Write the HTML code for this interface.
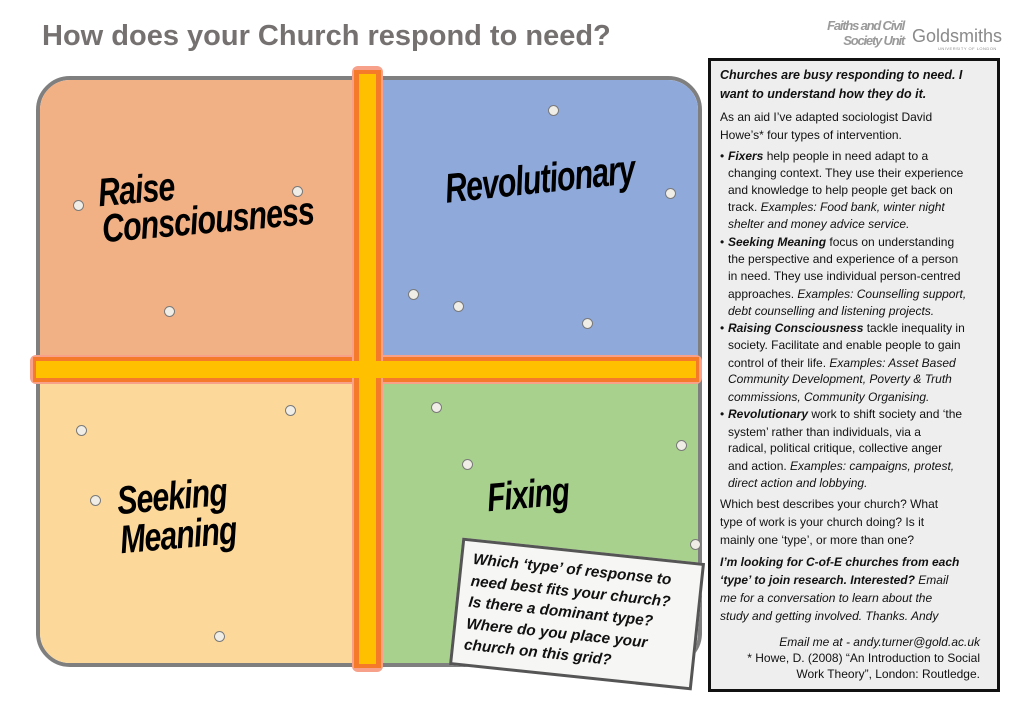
<!DOCTYPE html>
<html><head><meta charset="utf-8"><style>
body{margin:0;width:1024px;height:724px;background:#fff;position:relative;overflow:hidden;font-family:"Liberation Sans",sans-serif}
.a{position:absolute}
.lbl{position:absolute;font-family:"Liberation Sans",sans-serif;font-weight:bold;font-style:italic;color:#000;font-size:33px;line-height:33px;white-space:nowrap;transform-origin:0 50%;letter-spacing:-1px}
.dot{position:absolute;width:9px;height:9px;border-radius:50%;background:#f0ede6;border:1.3px solid #7a7a7a}
.ln{position:absolute;left:720px;font-size:12px;line-height:18px;white-space:nowrap;color:#111;letter-spacing:0px}
.ind{left:728px}
.bul{position:absolute;left:-8px;top:0}
</style></head><body>
<div class="a" style="left:42px;top:20px;font-size:29px;font-weight:bold;color:#767171;white-space:nowrap">How does your Church respond to need?</div>

<div class="a" style="left:820px;top:18px;font-weight:bold;font-style:italic;font-size:13px;line-height:15px;color:#9a9a9a;text-align:right;width:84px;white-space:nowrap;letter-spacing:-1.2px">Faiths and Civil<br>Society Unit</div>
<div class="a" style="left:912px;top:26px;font-size:18px;color:#8a8a8a;white-space:nowrap">Goldsmiths</div>
<div class="a" style="left:938px;top:46px;font-size:4px;color:#8a8a8a;letter-spacing:.5px;white-space:nowrap">UNIVERSITY OF LONDON</div>

<!-- grid -->
<div class="a" style="left:36px;top:76px;width:658px;height:583px;border:4px solid #7f7f7f;border-radius:34px;overflow:hidden">
 <div class="a" style="left:0;top:0;width:331px;height:294px;background:#f2b085"></div>
 <div class="a" style="left:331px;top:0;width:400px;height:294px;background:#8fa9db"></div>
 <div class="a" style="left:0;top:294px;width:331px;height:300px;background:#fcd99a"></div>
 <div class="a" style="left:331px;top:294px;width:400px;height:300px;background:#a9d18e"></div>
</div>
<!-- bars -->
<div class="a" style="left:30px;top:355px;width:672px;height:29px;background:#f7a08a;border-radius:6px"></div>
<div class="a" style="left:33px;top:357px;width:666px;height:25px;background:#f57a2a"></div>
<div class="a" style="left:36px;top:361px;width:660px;height:17px;background:#ffc000"></div>
<div class="a" style="left:352px;top:66px;width:31px;height:606px;background:#f7a08a;border-radius:6px"></div>
<div class="a" style="left:354px;top:70px;width:27px;height:598px;background:#f57a2a"></div>
<div class="a" style="left:359px;top:74px;width:17px;height:590px;background:#ffc000"></div>
<div class="a" style="left:36px;top:361px;width:660px;height:17px;background:#ffc000"></div>

<!-- dots -->
<div class="dot" style="left:548px;top:105px"></div>
<div class="dot" style="left:292px;top:186px"></div>
<div class="dot" style="left:73px;top:200px"></div>
<div class="dot" style="left:665px;top:188px"></div>
<div class="dot" style="left:164px;top:306px"></div>
<div class="dot" style="left:408px;top:289px"></div>
<div class="dot" style="left:453px;top:301px"></div>
<div class="dot" style="left:582px;top:318px"></div>
<div class="dot" style="left:285px;top:405px"></div>
<div class="dot" style="left:76px;top:425px"></div>
<div class="dot" style="left:431px;top:402px"></div>
<div class="dot" style="left:462px;top:459px"></div>
<div class="dot" style="left:676px;top:440px"></div>
<div class="dot" style="left:90px;top:495px"></div>
<div class="dot" style="left:214px;top:631px"></div>
<div class="dot" style="left:690px;top:539px"></div>

<!-- labels -->
<div class="lbl" style="left:98px;top:176px;transform:rotate(-5deg) scale(0.92,1.2)">Raise</div>
<div class="lbl" style="left:102px;top:212px;transform:rotate(-5deg) scale(0.92,1.2)">Consciousness</div>
<div class="lbl" style="left:445px;top:172px;transform:rotate(-6deg) scale(0.92,1.25)">Revolutionary</div>
<div class="lbl" style="left:117px;top:484px;transform:rotate(-5deg) scale(0.92,1.2)">Seeking</div>
<div class="lbl" style="left:120px;top:523px;transform:rotate(-5deg) scale(0.92,1.2)">Meaning</div>
<div class="lbl" style="left:487px;top:481px;transform:rotate(-5deg) scale(0.9,1.2)">Fixing</div>

<!-- note -->
<div class="a" style="left:455px;top:550px;width:244px;height:128px;background:#f6f6f4;border:3px solid #555;transform:rotate(6deg);box-sizing:border-box;padding:7px 0 0 10px;font-style:italic;font-weight:bold;font-size:15.3px;line-height:21.5px;color:#111;white-space:nowrap">Which ‘type’ of response to<br>need best fits your church?<br>Is there a dominant type?<br>Where do you place your<br>church on this grid?</div>

<!-- panel -->
<div class="a" style="left:708px;top:58px;width:286px;height:628px;background:#eeeeee;border:3px solid #111"></div>
<div class="ln" style="top:66px;font-weight:bold;font-style:italic;font-size:12.5px">Churches are busy responding to need. I</div>
<div class="ln" style="top:85px;font-weight:bold;font-style:italic;font-size:12.5px">want to understand how they do it.</div>
<div class="ln" style="top:108px">As an aid I’ve adapted sociologist David</div>
<div class="ln" style="top:126px">Howe’s* four types of intervention.</div>
<div class="ln ind" style="top:147px"><span class="bul">•</span><b><i>Fixers</i></b> help people in need adapt to a</div>
<div class="ln ind" style="top:164px">changing context. They use their experience</div>
<div class="ln ind" style="top:181px">and knowledge to help people get back on</div>
<div class="ln ind" style="top:198px">track. <i>Examples: Food bank, winter night</i></div>
<div class="ln ind" style="top:215px"><i>shelter and money advice service.</i></div>
<div class="ln ind" style="top:233px"><span class="bul">•</span><b><i>Seeking Meaning</i></b> focus on understanding</div>
<div class="ln ind" style="top:250px">the perspective and experience of a person</div>
<div class="ln ind" style="top:267px">in need. They use individual person-centred</div>
<div class="ln ind" style="top:285px">approaches. <i>Examples: Counselling support,</i></div>
<div class="ln ind" style="top:302px"><i>debt counselling and listening projects.</i></div>
<div class="ln ind" style="top:319px"><span class="bul">•</span><b><i>Raising Consciousness</i></b> tackle inequality in</div>
<div class="ln ind" style="top:336px">society. Facilitate and enable people to gain</div>
<div class="ln ind" style="top:354px">control of their life. <i>Examples: Asset Based</i></div>
<div class="ln ind" style="top:370px"><i>Community Development, Poverty &amp; Truth</i></div>
<div class="ln ind" style="top:388px"><i>commissions, Community Organising.</i></div>
<div class="ln ind" style="top:405px"><span class="bul">•</span><b><i>Revolutionary</i></b> work to shift society and ‘the</div>
<div class="ln ind" style="top:423px">system’ rather than individuals, via a</div>
<div class="ln ind" style="top:439px">radical, political critique, collective anger</div>
<div class="ln ind" style="top:457px">and action. <i>Examples: campaigns, protest,</i></div>
<div class="ln ind" style="top:474px"><i>direct action and lobbying.</i></div>
<div class="ln" style="top:495px">Which best describes your church? What</div>
<div class="ln" style="top:513px">type of work is your church doing? Is it</div>
<div class="ln" style="top:531px">mainly one ‘type’, or more than one?</div>
<div class="ln" style="top:553px"><b><i>I’m looking for C-of-E churches from each</i></b></div>
<div class="ln" style="top:571px"><b><i>‘type’ to join research. Interested?</i></b> <i>Email</i></div>
<div class="ln" style="top:589px"><i>me for a conversation to learn about the</i></div>
<div class="ln" style="top:607px"><i>study and getting involved. Thanks. Andy</i></div>
<div class="ln" style="top:633px;left:auto;right:44px"><i>Email me at - andy.turner@gold.ac.uk</i></div>
<div class="ln" style="top:649px;left:auto;right:44px">* Howe, D. (2008) “An Introduction to Social</div>
<div class="ln" style="top:665px;left:auto;right:44px">Work Theory”, London: Routledge.</div>
</body></html>
